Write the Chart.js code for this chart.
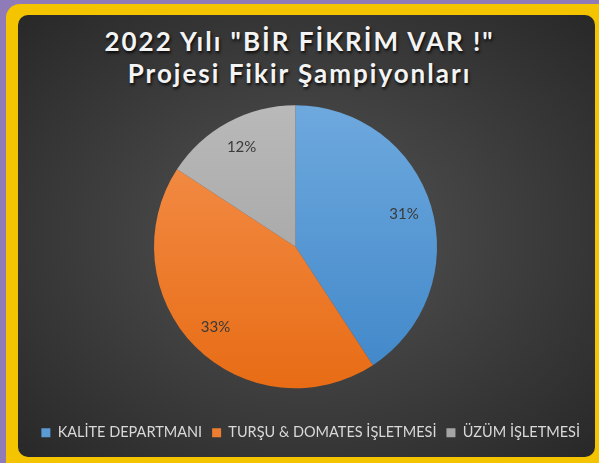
<!DOCTYPE html>
<html lang="tr">
<head>
<meta charset="utf-8">
<script src="https://cdn.jsdelivr.net/npm/chart.js@4.4.1/dist/chart.umd.min.js"></script>
<style>
  html, body { margin: 0; padding: 0; width: 599px; height: 463px; overflow: hidden; background: #8f7bb8; }
  #frame { position: absolute; left: 6px; top: 4px; width: 610px; height: 480px; background: #f5c400; border-radius: 14px; }
  #panel {
    position: absolute; left: 18px; top: 15px; width: 577px; height: 442px; border-radius: 10px;
    background: radial-gradient(ellipse at 50% 50%, #545454 0%, #3e3e3e 50%, #282828 100%);
  }
  #title {
    position: absolute; left: 0; top: 26px; width: 599px; text-align: center;
    font-family: Lato, sans-serif; font-weight: bold; font-size: 26px; line-height: 31.6px;
    letter-spacing: 2px; color: #f4f4f4; text-shadow: 1px 2px 3px rgba(0,0,0,0.85);
  }
  #wrap { position: absolute; left: 0; top: 0; width: 599px; height: 463px; }
</style>
</head>
<body>
<div id="frame"></div>
<div id="panel"></div>
<div id="title">2022 Yılı "BİR FİKRİM VAR !"<br>Projesi Fikir Şampiyonları</div>
<div id="wrap"><canvas id="chart"></canvas></div>
<script>
const CATEGORIES = ['KALİTE DEPARTMANI', 'TURŞU & DOMATES İŞLETMESİ', 'ÜZÜM İŞLETMESİ'];
const VALUES = [31, 33, 12];
const PERCENT_LABELS = VALUES.map((v) => `${v}%`);

// top / bottom shades of each slice
const SLICE_COLORS = [
  ['#6ea9de', '#3f86c8'],
  ['#f4924f', '#e86c15'],
  ['#b9b9b9', '#9c9c9c'],
];
const LEGEND_COLORS = ['#5b9bd5', '#ed7d31', '#a5a5a5'];

function sliceFill(context) {
  const { chart, dataIndex } = context;
  const area = chart.chartArea;
  const pair = SLICE_COLORS[dataIndex];
  if (!area) {
    return pair[0];
  }
  const cy = (area.top + area.bottom) / 2;
  const gradient = chart.ctx.createLinearGradient(0, cy - 142, 0, cy + 142);
  gradient.addColorStop(0, pair[0]);
  gradient.addColorStop(1, pair[1]);
  return gradient;
}

const pctLabels = {
  id: 'pctLabels',
  afterDatasetsDraw(chart) {
    const { ctx } = chart;
    const meta = chart.getDatasetMeta(0);
    ctx.save();
    ctx.font = '15px Lato, sans-serif';
    ctx.fillStyle = '#3a3a3a';
    ctx.textAlign = 'center';
    ctx.textBaseline = 'middle';
    meta.data.forEach((arc, i) => {
      const { x, y, startAngle, endAngle, outerRadius } = arc.getProps(
        ['x', 'y', 'startAngle', 'endAngle', 'outerRadius'],
        true,
      );
      const mid = (startAngle + endAngle) / 2;
      const r = outerRadius * 0.8;
      ctx.fillText(PERCENT_LABELS[i], x + Math.cos(mid) * r, y + Math.sin(mid) * r);
    });
    ctx.restore();
  },
};

new Chart(document.getElementById('chart').getContext('2d'), {
  type: 'pie',
  data: {
    labels: CATEGORIES,
    datasets: [
      {
        data: VALUES,
        backgroundColor: sliceFill,
        borderWidth: 0,
        radius: 141.5,
      },
    ],
  },
  options: {
    responsive: true,
    maintainAspectRatio: false,
    animation: false,
    layout: { padding: { top: 78, left: 1, right: 9, bottom: 13 } },
    plugins: {
      legend: {
        position: 'bottom',
        align: 'end',
        labels: {
          boxWidth: 9,
          boxHeight: 9,
          padding: 10,
          color: '#d9d9d9',
          font: { family: 'Lato, sans-serif', size: 14.5 },
          generateLabels() {
            return CATEGORIES.map((text, i) => ({
              text,
              fillStyle: LEGEND_COLORS[i],
              strokeStyle: LEGEND_COLORS[i],
              lineWidth: 0,
              fontColor: '#d9d9d9',
              index: i,
            }));
          },
        },
      },
      tooltip: { enabled: false },
    },
  },
  plugins: [pctLabels],
});
</script>
</body>
</html>
